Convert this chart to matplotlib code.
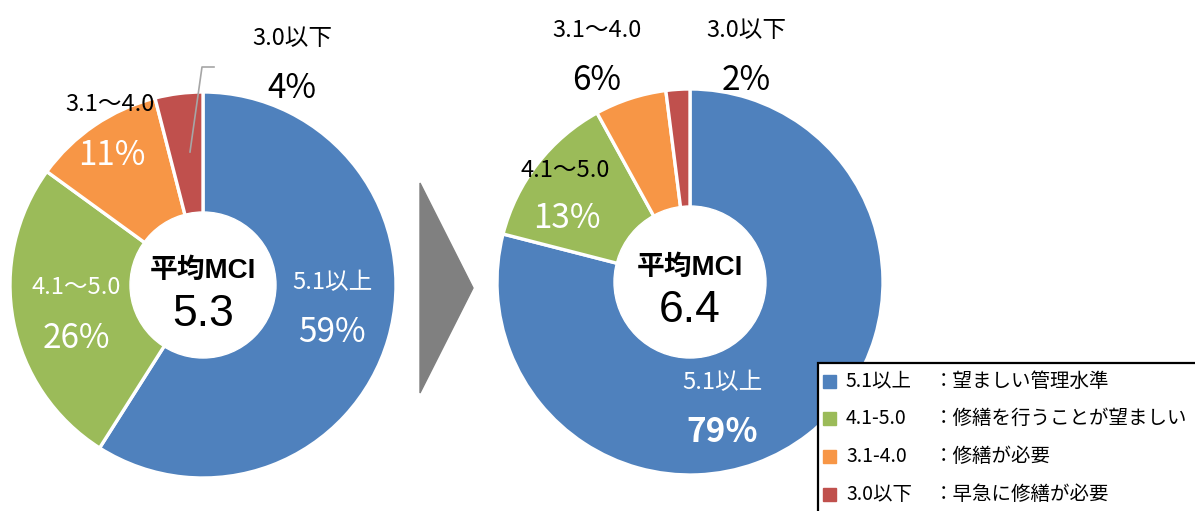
import matplotlib.pyplot as plt
from matplotlib.patches import Circle, Polygon, Rectangle

plt.rcParams['font.family'] = ['Noto Sans CJK JP', 'DejaVu Sans']

# MCI distribution before / after
categories = ['5.1以上', '4.1～5.0', '3.1～4.0', '3.0以下']
before = [59, 26, 11, 4]
after = [79, 13, 6, 2]
mci_before = 5.3
mci_after = 6.4

legend_keys = ['5.1以上', '4.1-5.0', '3.1-4.0', '3.0以下']
legend_desc = ['：望ましい管理水準', '：修繕を行うことが望ましい', '：修繕が必要', '：早急に修繕が必要']
colors = ['#4f81bd', '#9bbb59', '#f79646', '#c0504d']

W, H = 1195, 511
fig = plt.figure(figsize=(W / 100, H / 100), dpi=100)
ax = fig.add_axes([0, 0, 1, 1])


def donut(vals, cx, cy, r, hole, mci):
    ax.pie(vals, colors=colors, startangle=90, counterclock=False,
           center=(cx, cy), radius=r, frame=True,
           wedgeprops=dict(edgecolor='white', linewidth=2.4))
    ax.add_patch(Circle((cx, cy), hole, color='white', zorder=3))
    ax.text(cx, cy + 14, '平均MCI', ha='center', va='center', fontsize=20,
            fontweight='bold', family=['Liberation Sans', 'Noto Sans CJK JP'], zorder=4)
    ax.text(cx, cy - 29, f'{mci}', ha='center', va='center', fontsize=32,
            family=['Liberation Sans', 'DejaVu Sans'], zorder=4)


def label(x, y, cat, pct, cat_color, pct_color, bold=False):
    ax.text(x, H - y, cat, ha='center', va='center', fontsize=17,
            color=cat_color, zorder=5)
    ax.text(x, H - y - 50, f'{pct}%', ha='center', va='center', fontsize=24,
            color=pct_color, fontweight='bold' if bold else 'normal', zorder=5)


donut(before, 203, H - 285, 193, 73, mci_before)
donut(after, 690, H - 282, 193, 76, mci_after)
ax.set_xlim(0, W)
ax.set_ylim(0, H)
ax.set_aspect('equal')
ax.axis('off')

# left chart labels
label(332, 283, categories[0], before[0], 'white', 'white')
label(76, 288, categories[1], before[1], 'white', 'white')
ax.text(110, H - 104, categories[2], ha='center', va='center', fontsize=17, zorder=5)
ax.text(112, H - 155, f'{before[2]}%', ha='center', va='center', fontsize=24,
        color='white', zorder=5)
label(292, 38, categories[3], before[3], 'black', 'black')
ax.plot([190, 202, 214], [H - 152, H - 67, H - 67], color='#a6a6a6', lw=1.2, zorder=5)

# right chart labels
label(722, 383, categories[0], after[0], 'white', 'white', bold=True)
ax.text(565, H - 170, categories[1], ha='center', va='center', fontsize=17, zorder=5)
ax.text(567, H - 218, f'{after[1]}%', ha='center', va='center', fontsize=24,
        color='white', zorder=5)
label(597, 30, categories[2], after[2], 'black', 'black')
label(746, 30, categories[3], after[3], 'black', 'black')

# arrow between the charts
ax.add_patch(Polygon([(420, H - 183), (473, H - 288), (420, H - 393)],
                     closed=True, color='#808080', zorder=2))

# legend box
ax.add_patch(Rectangle((818, -5), 400, H - 363 + 5, facecolor='white',
                       edgecolor='black', lw=1.6, zorder=6))
for i, (k, d) in enumerate(zip(legend_keys, legend_desc)):
    y = H - (381 + i * 37.7)
    ax.add_patch(Rectangle((823, y - 6.5), 13, 13, color=colors[i], zorder=7))
    ax.text(846, y, k, ha='left', va='center', fontsize=14, zorder=7)
    ax.text(934, y, d, ha='left', va='center', fontsize=14, zorder=7)

fig.savefig('out.png', dpi=100)
